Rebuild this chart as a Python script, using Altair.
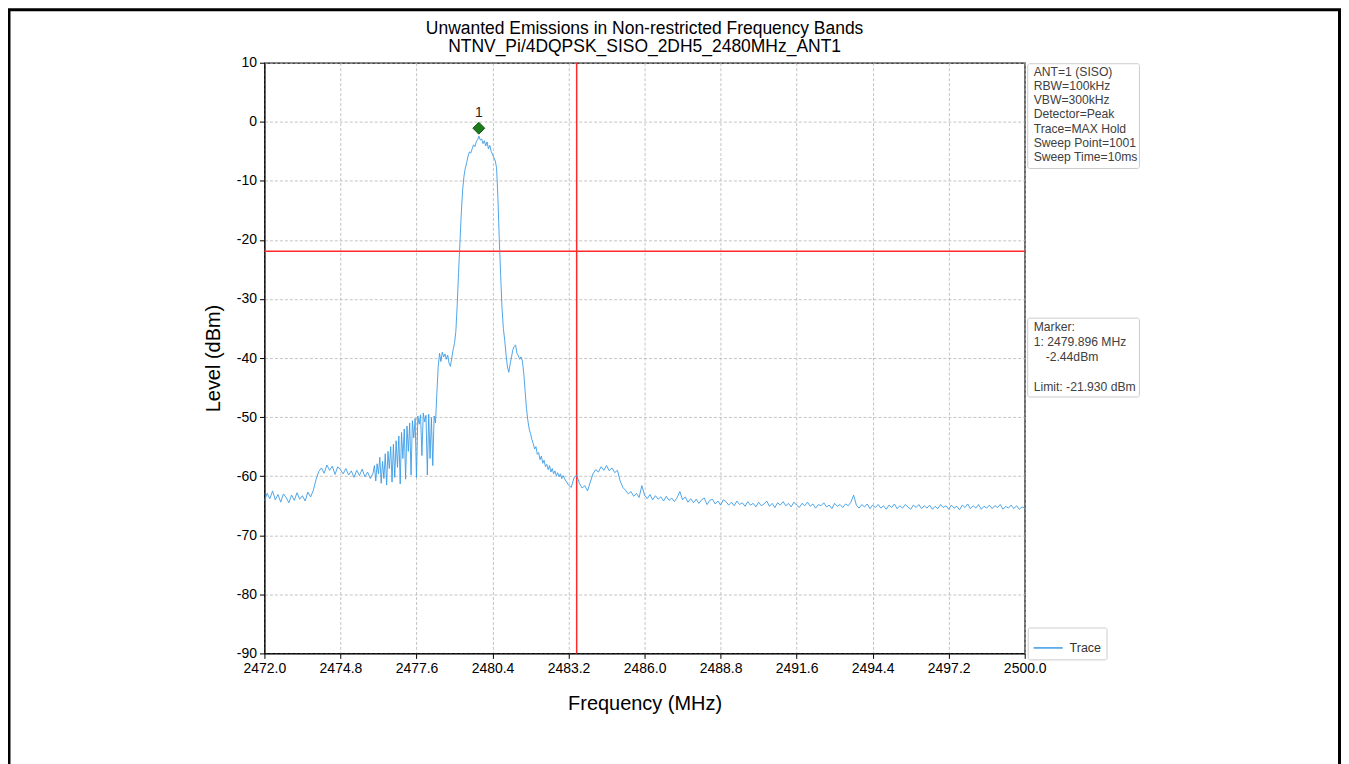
import altair as alt
import pandas as pd

# ---------------- data ----------------
seg_a_start, seg_a_step = 2472.0, 0.1
seg_a_levels = [
    -64.2, -62.9, -63.8, -62.5, -64.0, -63.1, -64.4, -63.0, -63.6, -64.5,
    -63.2, -64.1, -62.8, -63.9, -63.3, -64.2, -62.7, -63.5, -62.4, -60.6,
    -59.2, -58.6, -59.5, -58.1, -59.0, -58.3, -59.7, -58.4, -58.9, -59.6,
    -58.7, -59.8, -59.1, -60.2, -59.0, -59.9, -58.8, -60.1, -59.3, -60.4,
]

seg_b_start, seg_b_step = 2476.0, 0.05
seg_b_levels = [
    -59.5, -58.2, -60.8, -57.9, -59.6, -56.8, -61.2, -57.5, -60.4, -56.2,
    -61.5, -55.8, -58.7, -55.0, -61.0, -54.6, -60.2, -54.0, -58.5, -53.2,
    -61.3, -52.6, -57.0, -52.0, -60.5, -51.5, -55.8, -51.0, -59.8, -50.6,
    -53.5, -50.2, -60.2, -49.8, -51.2, -49.6, -56.5, -49.3, -50.8, -49.7,
    -59.8, -49.5, -57.0, -50.1, -58.2, -49.8, -51.0, -46.0, -41.5, -39.2,
    -40.6, -39.0, -39.8, -39.3, -40.2, -39.5, -40.9, -41.4, -40.0, -38.6,
    -37.5, -35.5, -31.0, -25.5, -20.5, -15.5, -11.5, -9.2, -7.8, -6.9,
    -5.8, -5.1, -5.3, -4.6, -3.9, -4.2, -3.4, -3.0, -2.44, -3.1,
    -2.9, -3.7, -3.2, -4.1, -3.4, -4.6, -4.0, -5.0, -5.5, -6.1,
    -6.6, -7.8, -13.0, -20.0, -26.0, -31.5, -35.0, -37.0, -39.5, -41.5,
    -42.4, -41.0, -39.8, -38.6, -38.0, -37.8, -39.2, -39.6, -40.2, -39.8,
    -40.5, -42.5, -45.5, -48.5, -50.5, -52.0, -52.8, -53.8, -54.5, -55.4,
    -55.0, -56.3, -56.0, -57.2, -56.6, -57.8, -57.3, -58.4, -58.0, -58.9,
    -58.2, -59.3, -58.7, -59.6, -59.1, -59.9, -59.4, -60.1, -59.6, -60.4,
    -59.9,
]

seg_c_start, seg_c_step = 2483.1, 0.1
seg_c_levels = [
    -60.8, -61.5, -61.9, -60.3, -59.8, -61.2, -62.0, -61.6, -62.5, -61.0,
    -59.6, -58.9, -59.3, -58.4, -59.0, -58.2, -59.1, -58.6, -59.4, -59.0,
    -60.8, -61.9, -62.4, -63.0, -62.6, -63.4, -62.9, -63.6, -61.6, -63.2,
    -63.8, -63.1, -64.0, -63.3, -63.9, -63.5, -64.2, -63.4, -64.1, -63.7,
    -64.3, -63.6, -62.6, -64.0, -63.5, -64.4, -63.8, -64.5, -63.9, -64.6,
    -64.0, -63.7, -64.8, -64.1, -63.9, -64.7, -64.2, -64.9, -64.0, -64.3,
    -64.9, -64.4, -65.0, -64.2, -64.8, -64.5, -65.1, -64.3, -64.9, -64.6,
    -65.2, -64.4, -65.0, -64.7, -64.2, -65.1, -64.6, -65.3, -64.5, -64.9,
    -64.3, -65.0, -64.6, -65.2, -64.4, -64.9, -65.3, -64.6, -65.0, -64.4,
    -65.1, -64.7, -65.4, -64.8, -65.0, -64.5, -65.2, -64.9, -65.5, -64.6,
    -65.1, -64.8, -65.3, -64.7, -65.0, -64.4, -63.2, -64.9, -65.4, -64.8,
    -65.2, -64.7, -65.5, -64.9, -65.3, -64.8, -65.4, -65.0, -65.6, -64.9,
    -65.3, -64.7, -65.5, -65.0, -65.4, -64.8, -65.2, -65.6, -64.9, -65.3,
    -64.8, -65.5, -65.0, -65.4, -64.9, -65.6, -65.1, -65.5, -64.8, -65.3,
    -65.0, -65.6, -64.9, -65.4, -65.1, -65.7, -64.9, -65.3, -64.7, -65.5,
    -65.0, -65.4, -64.8, -65.6, -65.1, -65.4, -64.9, -65.5, -65.0, -65.3,
    -64.8, -65.6, -65.1, -65.4, -64.9, -65.5, -65.0, -65.6, -65.2, -65.4,
]

band_edge_mhz = 2483.5
limit_dbm = -21.93
marker_freq = 2479.896
marker_level = -2.44
marker_label = "1"

x_ticks = [2472.0, 2474.8, 2477.6, 2480.4, 2483.2, 2486.0, 2488.8,
           2491.6, 2494.4, 2497.2, 2500.0]
y_ticks = [-90, -80, -70, -60, -50, -40, -30, -20, -10, 0, 10]

settings_text = ["ANT=1 (SISO)", "RBW=100kHz", "VBW=300kHz", "Detector=Peak",
                 "Trace=MAX Hold", "Sweep Point=1001", "Sweep Time=10ms"]
marker_head = ["Marker:", "1: 2479.896 MHz"]
marker_value_text = "-2.44dBm"
limit_text = "Limit: -21.930 dBm"
title_line1 = "Unwanted Emissions in Non-restricted Frequency Bands"
title_line2 = "NTNV_Pi/4DQPSK_SISO_2DH5_2480MHz_ANT1"

# ---------------- build table ----------------
freqs, levels = [], []
for start, step, vals in [(seg_a_start, seg_a_step, seg_a_levels),
                          (seg_b_start, seg_b_step, seg_b_levels),
                          (seg_c_start, seg_c_step, seg_c_levels)]:
    for i, v in enumerate(vals):
        freqs.append(round(start + i * step, 3))
        levels.append(v)
trace_df = pd.DataFrame({"freq": freqs, "level": levels, "series": "Trace"})

FONT = "Liberation Sans"
W, H = 762, 592
NOTE_SIZE = 12.2

xscale = alt.Scale(domain=[2472, 2500], nice=False, zero=False)
yscale = alt.Scale(domain=[-90, 10], nice=False, zero=False)

trace = alt.Chart(trace_df).mark_line(strokeWidth=0.9, clip=True).encode(
    x=alt.X("freq:Q", scale=xscale,
            axis=alt.Axis(values=x_ticks, format=".1f", title="Frequency (MHz)",
                          labelFontSize=14, titleFontSize=20, titlePadding=18,
                          titleFontWeight="normal", labelFlush=False)),
    y=alt.Y("level:Q", scale=yscale,
            axis=alt.Axis(values=y_ticks, title="Level (dBm)",
                          labelExpr="toString(datum.value)",
                          labelFontSize=14, titleFontSize=20, titlePadding=13,
                          titleFontWeight="normal", labelFlush=False)),
    color=alt.Color("series:N", scale=alt.Scale(range=["#3b9be6"]),
                    legend=alt.Legend(title=None, orient="none", legendX=765,
                                      legendY=566, symbolType="stroke",
                                      symbolStrokeWidth=1.5, symbolSize=850,
                                      labelFontSize=12.5, labelFont=FONT,
                                      labelColor="#333333", labelOffset=6,
                                      fillColor="white", strokeColor="#cccccc",
                                      padding=5, cornerRadius=2)),
)

vline = alt.Chart(pd.DataFrame({"f": [band_edge_mhz]})).mark_rule(
    color="#ff2a2a", strokeWidth=1.5).encode(x=alt.X("f:Q", scale=xscale))
hline = alt.Chart(pd.DataFrame({"l": [limit_dbm]})).mark_rule(
    color="#ff2a2a", strokeWidth=1.5).encode(y=alt.Y("l:Q", scale=yscale))

mk_df = pd.DataFrame({"f": [marker_freq], "l": [marker_level], "t": [marker_label]})
marker = alt.Chart(mk_df).mark_point(
    shape="diamond", filled=True, size=140, color="#1d7a1d",
    stroke="#0f5a0f", strokeWidth=1, opacity=1, yOffset=-8).encode(
    x=alt.X("f:Q", scale=xscale), y=alt.Y("l:Q", scale=yscale))
marker_lbl = alt.Chart(mk_df).mark_text(
    fontSize=14, font=FONT, color="#222222", dy=-23).encode(
    x=alt.X("f:Q", scale=xscale), y=alt.Y("l:Q", scale=yscale),
    text="t:N")

one = pd.DataFrame({"a": [0]})


def note(text, x, y, size=NOTE_SIZE, color="#404040", align="left", lh=None):
    kw = dict(align=align, baseline="middle", font=FONT, fontSize=size,
              color=color)
    if lh is not None:
        kw["lineHeight"] = lh
        kw["baseline"] = "top"
    return alt.Chart(one).mark_text(**kw).encode(
        x=alt.value(x), y=alt.value(y), text=alt.value(text))


box1 = alt.Chart(one).mark_rect(fill="white", stroke="#cccccc",
                                 strokeWidth=1, cornerRadius=2).encode(
    x=alt.value(765), x2=alt.value(877), y=alt.value(1), y2=alt.value(106))
txt1 = note(settings_text, 771, 3, lh=14.3)

box2 = alt.Chart(one).mark_rect(fill="white", stroke="#cccccc",
                                 strokeWidth=1, cornerRadius=2).encode(
    x=alt.value(765), x2=alt.value(877), y=alt.value(256), y2=alt.value(335))
txt2a = note(marker_head, 771, 259, lh=15)
txt2b = note(marker_value_text, 783, 295)
txt2c = note(limit_text, 771, 325)

title1 = note(title_line1, 381, -34, size=17.5, color="black", align="center")
title2 = note(title_line2, 381, -16, size=17.5, color="black", align="center")

frame = alt.Chart(one).mark_rect(fill=None, filled=False, stroke="black",
                                  strokeWidth=3, clip=False).encode(
    x=alt.value(-256), x2=alt.value(1077.5),
    y=alt.value(-53), y2=alt.value(800))

chart = alt.layer(
    frame, vline, hline, trace, marker, marker_lbl, box1, txt1, box2,
    txt2a, txt2b, txt2c, title1, title2
).properties(
    width=W, height=H,
    autosize=alt.AutoSizeParams(type="none"),
    padding={"left": 257, "top": 54, "right": 317, "bottom": 110},
).configure(
    background="white",
).configure_view(
    stroke="black", strokeWidth=1.2,
).configure_axis(
    labelFont=FONT, titleFont=FONT, labelColor="black", titleColor="black",
    domainColor="black", tickColor="black", tickSize=5, labelPadding=3,
    gridColor="#b5b5b5", gridDash=[3, 2], gridWidth=0.8,
)

chart.save("out.html", embed_options={"renderer": "svg", "actions": False})
